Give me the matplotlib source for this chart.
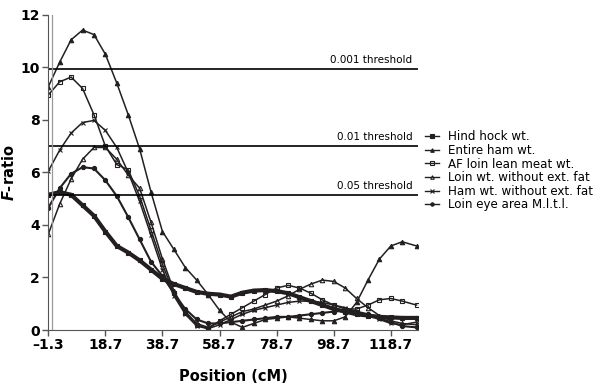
import matplotlib
matplotlib.use("Agg")
import matplotlib.pyplot as plt

# positions along the chromosome (cM)
positions = [-1.3, 2.7, 6.7, 10.7, 14.7, 18.7, 22.7, 26.7, 30.7, 34.7, 38.7,
             42.7, 46.7, 50.7, 54.7, 58.7, 62.7, 66.7, 70.7, 74.7, 78.7,
             82.7, 86.7, 90.7, 94.7, 98.7, 102.7, 106.7, 110.7, 114.7,
             118.7, 122.7, 127.7]

hindHock = [5.15, 5.25, 5.15, 4.75, 4.35, 3.75, 3.2, 2.95, 2.65, 2.3, 1.95,
            1.75, 1.6, 1.45, 1.38, 1.35, 1.27, 1.42, 1.5, 1.52, 1.48,
            1.4, 1.25, 1.1, 0.95, 0.8, 0.7, 0.6, 0.55, 0.5,
            0.48, 0.46, 0.46]
entireHam = [9.26, 10.2, 11.05, 11.42, 11.25, 10.5, 9.4, 8.2, 6.9, 5.25, 3.75,
             3.07, 2.38, 1.9, 1.35, 0.75, 0.3, 0.1, 0.25, 0.4, 0.45,
             0.5, 0.45, 0.4, 0.35, 0.35, 0.5, 1.05, 1.9, 2.7,
             3.2, 3.36, 3.2]
afLoin = [8.95, 9.45, 9.63, 9.2, 8.2, 7.0, 6.3, 6.1, 5.1, 3.8, 2.5,
          1.4, 0.65, 0.2, 0.05, 0.35, 0.6, 0.85, 1.1, 1.35, 1.6,
          1.7, 1.6, 1.4, 1.15, 0.95, 0.8, 0.8, 0.95, 1.15,
          1.2, 1.1, 0.95]
loinWt = [3.65, 4.8, 5.75, 6.5, 6.95, 6.95, 6.5, 5.9, 5.4, 4.1, 2.7,
          1.5, 0.7, 0.25, 0.1, 0.3, 0.5, 0.7, 0.8, 0.95, 1.1,
          1.3, 1.55, 1.75, 1.9, 1.85, 1.6, 1.2, 0.85, 0.55,
          0.35, 0.25, 0.2]
hamWt = [6.05, 6.85, 7.5, 7.9, 7.98, 7.6, 6.95, 6.0, 4.9, 3.6, 2.3,
         1.3, 0.6, 0.15, 0.05, 0.2, 0.4, 0.6, 0.75, 0.85, 0.95,
         1.05, 1.1, 1.1, 1.05, 0.95, 0.85, 0.7, 0.55, 0.4,
         0.25, 0.2, 0.3]
loinEye = [4.65, 5.4, 5.95, 6.2, 6.15, 5.7, 5.1, 4.3, 3.45, 2.6, 2.05,
           1.4, 0.8, 0.4, 0.25, 0.25, 0.3, 0.35, 0.4, 0.45, 0.5,
           0.5, 0.55, 0.6, 0.65, 0.7, 0.75, 0.7, 0.6, 0.45,
           0.3, 0.15, 0.1]

thresholds = [9.95, 7.0, 5.15]
thresholdLabels = ["0.001 threshold", "0.01 threshold", "0.05 threshold"]
xticks = [-1.3, 18.7, 38.7, 58.7, 78.7, 98.7, 118.7]
xtickLabels = ["\u20131.3", "18.7", "38.7", "58.7", "78.7", "98.7", "118.7"]

fig = plt.figure(figsize=(6.08, 3.91), dpi=100)
ax = fig.add_axes([0.0794, 0.156, 0.608, 0.806])

col = "#231f20"
series = [
    ("Hind hock wt.", hindHock, "s", 3.0, 3.5, "full"),
    ("Entire ham wt.", entireHam, "^", 1.1, 3.2, "full"),
    ("AF loin lean meat wt.", afLoin, "s", 1.1, 3.2, "none"),
    ("Loin wt. without ext. fat", loinWt, "^", 1.1, 3.2, "none"),
    ("Ham wt. without ext. fat", hamWt, "x", 1.1, 3.2, "full"),
    ("Loin eye area M.l.t.l.", loinEye, "o", 1.5, 3.0, "full"),
]
for label, vals, mk, lw, ms, fill in series:
    ax.plot(positions, vals, color=col, lw=lw, marker=mk, ms=ms,
            fillstyle=fill, mew=0.8, label=label)

for t, lab in zip(thresholds, thresholdLabels):
    ax.axhline(t, color="black", lw=1.2)
    ax.text(126.3, t + 0.15, lab, ha="right", va="bottom", fontsize=7.5)

ax.axvline(0.1, color="#999999", lw=0.9)

ax.set_xlim(-1.3, 128.2)
ax.set_ylim(0, 12)
ax.set_yticks(range(0, 13, 2))
ax.set_xticks(xticks)
ax.set_xticklabels(xtickLabels)
for lab in ax.get_xticklabels() + ax.get_yticklabels():
    lab.set_fontweight("bold")
    lab.set_fontsize(10)
ax.tick_params(direction="out", length=4, width=1, color="#555555", pad=2)
ax.spines["top"].set_visible(False)
ax.spines["right"].set_visible(False)
ax.spines["left"].set_color("#555555")
ax.spines["bottom"].set_color("#555555")

ax.set_xlabel("Position (cM)", fontsize=10.5, fontweight="bold")
ax.xaxis.set_label_coords(0.5, -0.125)
ax.set_ylabel(r"$\mathbfit{F}$-ratio", fontsize=10.5, fontweight="bold")
ax.yaxis.set_label_coords(-0.085, 0.5)

leg = ax.legend(loc="center left", bbox_to_anchor=(1.0, 0.505), frameon=False,
                fontsize=8.6, handlelength=1.2, handletextpad=0.7,
                labelspacing=0.05, borderaxespad=0.2, markerscale=0.8)
# thin handles in the legend, like the original
for line in leg.get_lines():
    line.set_linewidth(1.0)

fig.savefig("out.png", dpi=100)
